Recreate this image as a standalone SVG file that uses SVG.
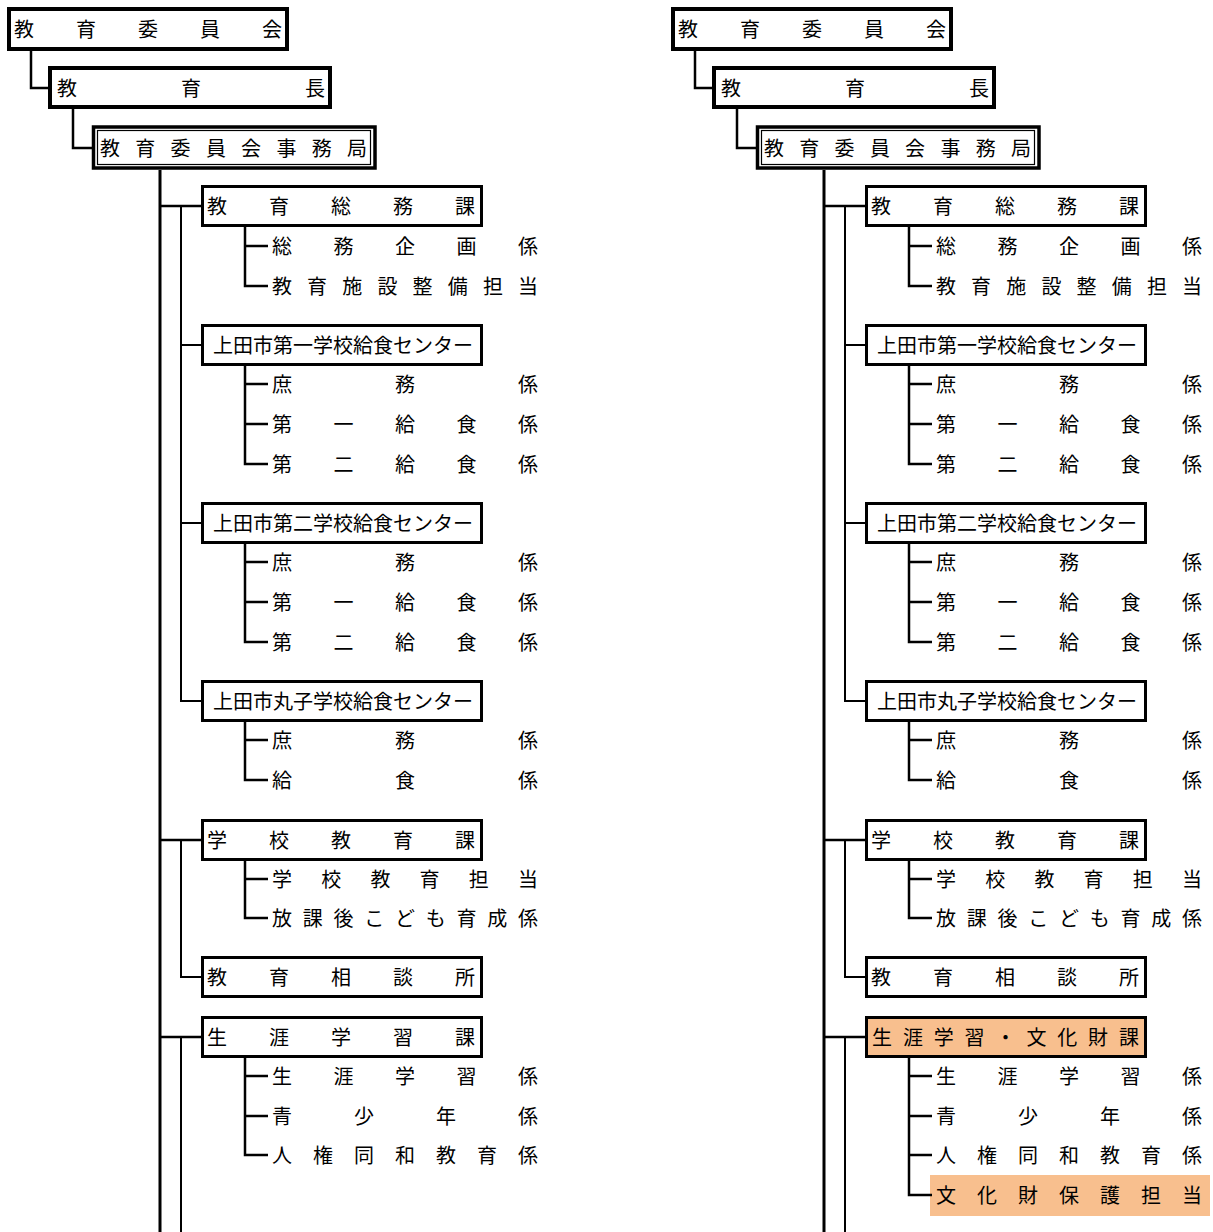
<svg xmlns="http://www.w3.org/2000/svg" width="1213" height="1232" viewBox="0 0 1213 1232">
<style>
text{font-family:"Noto Sans CJK JP","Noto Sans CJK SC",sans-serif;font-size:20px;fill:#000}
.top{fill:#fff;stroke:#000;stroke-width:4}
.box{fill:#fff;stroke:#000;stroke-width:3}
.hl{fill:#F8BF8E}
.boxhl{fill:#F8BF8E;stroke:#000;stroke-width:3}
.dbl{fill:#fff;stroke:#000;stroke-width:3.5}
.dbli{fill:none;stroke:#000;stroke-width:1.2}
.c{fill:none;stroke:#000;stroke-width:2.5}
.m{fill:none;stroke:#000;stroke-width:3}
.s{fill:none;stroke:#000;stroke-width:2}
</style>
<rect width="1213" height="1232" fill="#fff"/>

<!-- LEFT TREE -->
<g id="left">
<g id="L-connectors">
<path class="c" d="M31,51V88H48"/>
<path class="c" d="M73,109V148H92"/>
<path class="m" d="M160,170V1232"/>
<path class="c" d="M160,206H201M160,840H201M160,1037H201"/>
<path class="s" d="M181,206V701H201M181,345H201M181,523H201M181,840V977H201M181,1037V1232"/>
<path class="c" d="M245,226V286H268M245,246H268"/>
<path class="c" d="M245,365V464H268M245,384H268M245,424H268"/>
<path class="c" d="M245,543V642H268M245,562H268M245,602H268"/>
<path class="c" d="M245,721V780H268M245,740H268"/>
<path class="c" d="M245,860V918H268M245,879H268"/>
<path class="c" d="M245,1057V1155H268M245,1076H268M245,1116H268"/>
</g>
<g id="L-iinkai"><rect class="top" x="9" y="9" width="278" height="40"/><text x="14 76 138 200 262" y="37">教育委員会</text></g>
<g id="L-kyoikucho"><rect class="top" x="50" y="68" width="280" height="39"/><text x="57 181 305" y="96">教育長</text></g>
<g id="L-jimukyoku"><rect class="dbl" x="93.5" y="127" width="281.5" height="41"/><rect class="dbli" x="97.5" y="130.5" width="273" height="34"/><text x="100 135.3 170.6 205.9 241.1 276.4 311.7 347" y="156">教育委員会事務局</text></g>

<g id="L-somu"><rect class="box" x="202.5" y="186.5" width="279" height="39"/><text x="207 269 331 393 455" y="214">教育総務課</text></g>
<g id="L-somu1"><text x="272 333.5 395 456.5 518" y="254">総務企画係</text></g>
<g id="L-somu2"><text x="272 307.1 342.3 377.4 412.6 447.7 482.9 518" y="294">教育施設整備担当</text></g>

<g id="L-c1"><rect class="box" x="202.5" y="325.5" width="279" height="39"/><text x="213" y="353">上田市第一学校給食センター</text></g>
<g id="L-c1a"><text x="272 395 518" y="392">庶務係</text></g>
<g id="L-c1b"><text x="272 333.5 395 456.5 518" y="432">第一給食係</text></g>
<g id="L-c1c"><text x="272 333.5 395 456.5 518" y="472">第二給食係</text></g>

<g id="L-c2"><rect class="box" x="202.5" y="503.5" width="279" height="39"/><text x="213" y="531">上田市第二学校給食センター</text></g>
<g id="L-c2a"><text x="272 395 518" y="570">庶務係</text></g>
<g id="L-c2b"><text x="272 333.5 395 456.5 518" y="610">第一給食係</text></g>
<g id="L-c2c"><text x="272 333.5 395 456.5 518" y="650">第二給食係</text></g>

<g id="L-c3"><rect class="box" x="202.5" y="681.5" width="279" height="39"/><text x="213" y="709">上田市丸子学校給食センター</text></g>
<g id="L-c3a"><text x="272 395 518" y="748">庶務係</text></g>
<g id="L-c3b"><text x="272 395 518" y="788">給食係</text></g>

<g id="L-gakko"><rect class="box" x="202.5" y="820.5" width="279" height="39"/><text x="207 269 331 393 455" y="848">学校教育課</text></g>
<g id="L-gakko1"><text x="272 321.2 370.4 419.6 468.8 518" y="887">学校教育担当</text></g>
<g id="L-gakko2"><text x="272 302.75 333.5 364.25 395 425.75 456.5 487.25 518" y="926">放課後こども育成係</text></g>

<g id="L-sodan"><rect class="box" x="202.5" y="957.5" width="279" height="39"/><text x="207 269 331 393 455" y="985">教育相談所</text></g>

<g id="L-shogai"><rect class="box" x="202.5" y="1017.5" width="279" height="39"/><text x="207 269 331 393 455" y="1045">生涯学習課</text></g>
<g id="L-shogai1"><text x="272 333.5 395 456.5 518" y="1084">生涯学習係</text></g>
<g id="L-shogai2"><text x="272 354 436 518" y="1124">青少年係</text></g>
<g id="L-shogai3"><text x="272 313 354 395 436 477 518" y="1163">人権同和教育係</text></g>
</g>

<!-- RIGHT TREE -->
<g id="right" transform="translate(664,0)">
<rect id="R-hl-bunkazai" class="hl" x="266" y="1175" width="280" height="41"/>
<g id="R-connectors">
<path class="c" d="M31,51V88H48"/>
<path class="c" d="M73,109V148H92"/>
<path class="m" d="M160,170V1232"/>
<path class="c" d="M160,206H201M160,840H201M160,1037H201"/>
<path class="s" d="M181,206V701H201M181,345H201M181,523H201M181,840V977H201M181,1037V1232"/>
<path class="c" d="M245,226V286H268M245,246H268"/>
<path class="c" d="M245,365V464H268M245,384H268M245,424H268"/>
<path class="c" d="M245,543V642H268M245,562H268M245,602H268"/>
<path class="c" d="M245,721V780H268M245,740H268"/>
<path class="c" d="M245,860V918H268M245,879H268"/>
<path class="c" d="M245,1057V1195H268M245,1076H268M245,1116H268M245,1155H268"/>
</g>
<g id="R-iinkai"><rect class="top" x="9" y="9" width="278" height="40"/><text x="14 76 138 200 262" y="37">教育委員会</text></g>
<g id="R-kyoikucho"><rect class="top" x="50" y="68" width="280" height="39"/><text x="57 181 305" y="96">教育長</text></g>
<g id="R-jimukyoku"><rect class="dbl" x="93.5" y="127" width="281.5" height="41"/><rect class="dbli" x="97.5" y="130.5" width="273" height="34"/><text x="100 135.3 170.6 205.9 241.1 276.4 311.7 347" y="156">教育委員会事務局</text></g>

<g id="R-somu"><rect class="box" x="202.5" y="186.5" width="279" height="39"/><text x="207 269 331 393 455" y="214">教育総務課</text></g>
<g id="R-somu1"><text x="272 333.5 395 456.5 518" y="254">総務企画係</text></g>
<g id="R-somu2"><text x="272 307.1 342.3 377.4 412.6 447.7 482.9 518" y="294">教育施設整備担当</text></g>

<g id="R-c1"><rect class="box" x="202.5" y="325.5" width="279" height="39"/><text x="213" y="353">上田市第一学校給食センター</text></g>
<g id="R-c1a"><text x="272 395 518" y="392">庶務係</text></g>
<g id="R-c1b"><text x="272 333.5 395 456.5 518" y="432">第一給食係</text></g>
<g id="R-c1c"><text x="272 333.5 395 456.5 518" y="472">第二給食係</text></g>

<g id="R-c2"><rect class="box" x="202.5" y="503.5" width="279" height="39"/><text x="213" y="531">上田市第二学校給食センター</text></g>
<g id="R-c2a"><text x="272 395 518" y="570">庶務係</text></g>
<g id="R-c2b"><text x="272 333.5 395 456.5 518" y="610">第一給食係</text></g>
<g id="R-c2c"><text x="272 333.5 395 456.5 518" y="650">第二給食係</text></g>

<g id="R-c3"><rect class="box" x="202.5" y="681.5" width="279" height="39"/><text x="213" y="709">上田市丸子学校給食センター</text></g>
<g id="R-c3a"><text x="272 395 518" y="748">庶務係</text></g>
<g id="R-c3b"><text x="272 395 518" y="788">給食係</text></g>

<g id="R-gakko"><rect class="box" x="202.5" y="820.5" width="279" height="39"/><text x="207 269 331 393 455" y="848">学校教育課</text></g>
<g id="R-gakko1"><text x="272 321.2 370.4 419.6 468.8 518" y="887">学校教育担当</text></g>
<g id="R-gakko2"><text x="272 302.75 333.5 364.25 395 425.75 456.5 487.25 518" y="926">放課後こども育成係</text></g>

<g id="R-sodan"><rect class="box" x="202.5" y="957.5" width="279" height="39"/><text x="207 269 331 393 455" y="985">教育相談所</text></g>

<g id="R-shogai"><rect class="boxhl" x="202.5" y="1017.5" width="279" height="39"/><text x="208 238.9 269.8 300.6 331.5 362.4 393.2 424.1 455" y="1045">生涯学習・文化財課</text></g>
<g id="R-shogai1"><text x="272 333.5 395 456.5 518" y="1084">生涯学習係</text></g>
<g id="R-shogai2"><text x="272 354 436 518" y="1124">青少年係</text></g>
<g id="R-shogai3"><text x="272 313 354 395 436 477 518" y="1163">人権同和教育係</text></g>
<g id="R-bunkazai"><text x="272 313 354 395 436 477 518" y="1203">文化財保護担当</text></g>
</g>
</svg>
